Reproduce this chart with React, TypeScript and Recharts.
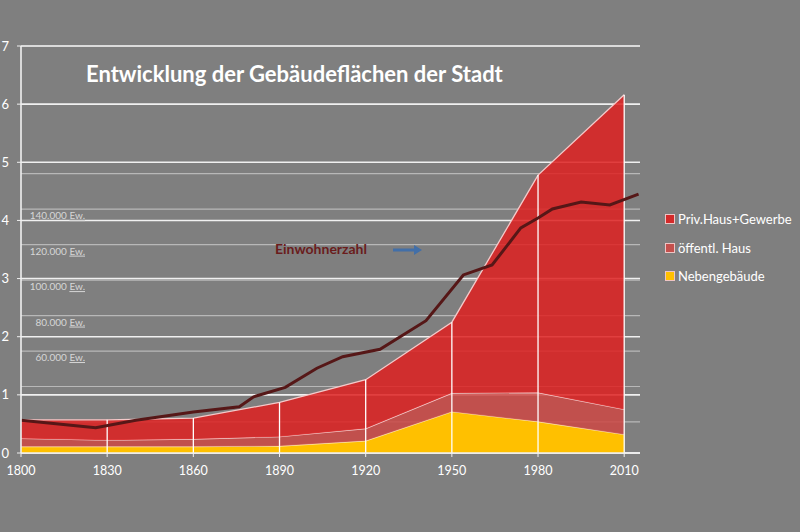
import {
  ComposedChart,
  Area,
  Line,
  XAxis,
  YAxis,
  CartesianGrid,
  ReferenceLine,
  Legend
} from "recharts";

// Gebäudeflächen (stacked)
const areaYears = [1800, 1830, 1860, 1890, 1920, 1950, 1980, 2010];
const nebengebaeude = [0.11, 0.11, 0.11, 0.12, 0.21, 0.71, 0.54, 0.32];
const oeffentlHaus = [0.14, 0.11, 0.13, 0.16, 0.21, 0.32, 0.5, 0.43];
const privHaus = [0.32, 0.35, 0.36, 0.59, 0.84, 1.22, 3.74, 5.41];

// Einwohnerzahl
const popYears = [1800, 1826, 1840, 1860, 1876, 1881, 1892, 1903, 1912, 1925, 1941, 1954, 1964, 1974, 1980, 1985, 1995, 2005, 2015];
const population = [21000, 16800, 21000, 25600, 28600, 34200, 39500, 50300, 56800, 61000, 77100, 102900, 108500, 129400, 135000, 140100, 144000, 142400, 148500];

const yTicks = [0, 1, 2, 3, 4, 5, 6, 7];
const popGridTicks = [20000, 40000, 60000, 80000, 100000, 120000, 140000, 160000];
const popLabels = [60000, 80000, 100000, 120000, 140000];

const legendOrder = ["Priv.Haus+Gewerbe", "öffentl. Haus", "Nebengebäude"];
const legendSwatch: Record<string, string> = {
  "Priv.Haus+Gewerbe": "#d42a2a",
  "öffentl. Haus": "#c4504d",
  "Nebengebäude": "#ffc000"
};

const areaRows = areaYears.map((year, i) => ({
  year,
  neben: nebengebaeude[i],
  oeff: oeffentlHaus[i],
  priv: privHaus[i]
}));
const totals = areaYears.map((_, i) => nebengebaeude[i] + oeffentlHaus[i] + privHaus[i]);
const popRows = popYears.map((year, i) => ({ year, pop: population[i] }));

const FONT = "Lato, 'Open Sans', sans-serif";

function ewLabel(value: number) {
  return (props: any) => {
    const vb = props.viewBox || {};
    return (
      <text
        x={(vb.x ?? 21) + 64}
        y={(vb.y ?? 0) + 10}
        textAnchor="end"
        fill="#d6d6d6"
        fontSize={10}
        fontFamily={FONT}
      >
        {`${value / 1000}.000 `}
        <tspan style={{ textDecoration: "underline dotted #e23b3b" }}>Ew.</tspan>
      </text>
    );
  };
}

function renderLegend(props: any) {
  const items = [...(props.payload || [])]
    .filter((p: any) => legendOrder.includes(p.value))
    .sort((a: any, b: any) => legendOrder.indexOf(a.value) - legendOrder.indexOf(b.value));
  return (
    <div style={{ paddingLeft: 25 }}>
      {items.map((p: any) => (
        <div
          key={p.value}
          style={{
            height: 28.5,
            display: "flex",
            alignItems: "center",
            color: "#fff",
            fontSize: 13,
            fontFamily: FONT,
            whiteSpace: "nowrap"
          }}
        >
          <span
            style={{
              width: 8,
              height: 8,
              flexShrink: 0,
              background: legendSwatch[p.value] ?? p.color,
              border: "1px solid #eec4c4",
              marginRight: 3,
              display: "inline-block"
            }}
          />
          {p.value}
        </div>
      ))}
    </div>
  );
}

export default function App() {
  return (
    <div style={{ position: "fixed", left: 0, top: 0, width: 800, height: 532, background: "#7f7f7f" }}>
      <ComposedChart width={800} height={532} data={areaRows} margin={{ top: 46, right: 20, bottom: 49, left: 0 }}>
        <CartesianGrid yAxisId="pop" vertical={false} stroke="#b8b8b8" strokeWidth={1.2} />
        <CartesianGrid vertical={false} stroke="#f0f0f0" strokeWidth={1.6} />
        <XAxis
          type="number"
          dataKey="year"
          domain={[1800, 2015.5]}
          ticks={areaYears}
          allowDataOverflow
          height={30}
          tickSize={4}
          tickMargin={9}
          axisLine={{ stroke: "#f0f0f0", strokeWidth: 1.6 }}
          tickLine={{ stroke: "#f0f0f0" }}
          tick={{ fill: "#ffffff", fontSize: 12.5, fontFamily: FONT }}
        />
        <YAxis
          domain={[0, 7]}
          ticks={yTicks}
          width={21}
          tickSize={4}
          tickMargin={8}
          axisLine={{ stroke: "#f0f0f0", strokeWidth: 1.6 }}
          tickLine={{ stroke: "#f0f0f0" }}
          tick={{ fill: "#ffffff", fontSize: 13, fontFamily: FONT }}
        />
        <YAxis yAxisId="pop" hide domain={[2500, 232000]} ticks={popGridTicks} />
        <Area
          type="linear"
          dataKey="neben"
          name="Nebengebäude"
          stackId="a"
          fill="#ffc000"
          fillOpacity={1}
          stroke="#fbe6b0"
          strokeWidth={1.3}
          isAnimationActive={false}
        />
        <Area
          type="linear"
          dataKey="oeff"
          name="öffentl. Haus"
          stackId="a"
          fill="#cc4844"
          fillOpacity={0.85}
          stroke="#f4d0d0"
          strokeWidth={1.3}
          isAnimationActive={false}
        />
        <Area
          type="linear"
          dataKey="priv"
          name="Priv.Haus+Gewerbe"
          stackId="a"
          fill="#de2020"
          fillOpacity={0.85}
          stroke="#f4caca"
          strokeWidth={1.3}
          isAnimationActive={false}
        />
        {areaYears.slice(1).map((year, i) => (
          <ReferenceLine
            key={`drop-${year}`}
            segment={[
              { x: year, y: 0 },
              { x: year, y: totals[i + 1] }
            ]}
            stroke="#ffffff"
            strokeWidth={1.3}
          />
        ))}
        {popLabels.map((v) => (
          <ReferenceLine key={`ew-${v}`} yAxisId="pop" y={v} stroke="none" label={ewLabel(v)} />
        ))}
        <Line
          data={popRows}
          type="linear"
          dataKey="pop"
          yAxisId="pop"
          name="Einwohnerzahl"
          stroke="#561717"
          strokeWidth={3}
          dot={false}
          legendType="none"
          isAnimationActive={false}
        />
        <Legend
          layout="vertical"
          align="right"
          verticalAlign="top"
          wrapperStyle={{ top: 205, width: 140 }}
          content={renderLegend}
        />
      </ComposedChart>
      <div
        style={{
          position: "absolute",
          left: 86,
          top: 60,
          color: "#ffffff",
          fontFamily: FONT,
          fontWeight: 700,
          fontSize: 22,
          whiteSpace: "nowrap"
        }}
      >
        Entwicklung der Gebäudeflächen der Stadt
      </div>
      <div
        style={{
          position: "absolute",
          left: 275,
          top: 240,
          color: "#6a1c1c",
          fontFamily: FONT,
          fontWeight: 700,
          fontSize: 14,
          whiteSpace: "nowrap"
        }}
      >
        Einwohnerzahl
      </div>
      <svg style={{ position: "absolute", left: 393, top: 244 }} width={30} height={12}>
        <path d="M0 4.5 H21 V1 L29 6 L21 11 V7.5 H0 Z" fill="#426fa8" />
      </svg>
    </div>
  );
}
